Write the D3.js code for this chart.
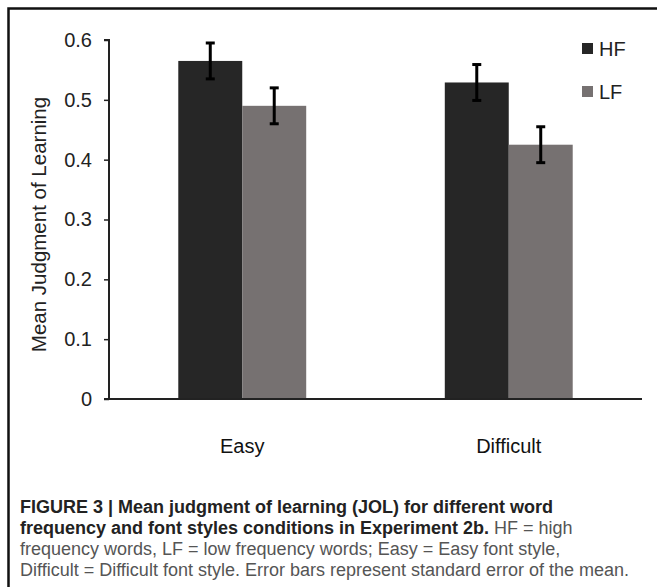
<!DOCTYPE html>
<html>
<head>
<meta charset="utf-8">
<script src="https://cdn.jsdelivr.net/npm/d3@7"></script>
<style>
  body { margin: 0; background: #fff; }
  svg text { font-family: "Liberation Sans", Arial, sans-serif; }
</style>
</head>
<body>
<div id="chart"></div>
<script>
// data
const categories = ["Easy", "Difficult"];
const seriesNames = ["HF", "LF"];
const hfMeans = [0.565, 0.529];
const lfMeans = [0.490, 0.425];
const hfErr = [0.030, 0.030];
const lfErr = [0.030, 0.030];
const yTicks = [0, 0.1, 0.2, 0.3, 0.4, 0.5, 0.6];
const seriesColors = ["#262626", "#767171"];

const captionLines = [
    [{ t: "FIGURE 3 | Mean judgment of learning (JOL) for different word", b: true }],
    [{ t: "frequency and font styles conditions in Experiment 2b.", b: true }, { t: " HF = high", b: false }],
    [{ t: "frequency words, LF = low frequency words; Easy = Easy font style,", b: false }],
    [{ t: "Difficult = Difficult font style. Error bars represent standard error of the mean.", b: false }]
];

const W = 657, H = 587;
const plot = { left: 109, right: 642, top: 40, bottom: 399 };

const svg = d3.select("#chart").append("svg")
    .attr("width", W)
    .attr("height", H);

// frame (left + top only, as in the figure crop)
svg.append("path")
    .attr("d", `M8.5,${H} V8.5 H${W}`)
    .attr("fill", "none")
    .attr("stroke", "#111")
    .attr("stroke-width", 2.5);

// scales
const x0 = d3.scaleBand()
    .domain(categories)
    .range([plot.left, plot.right])
    .paddingInner(0.52)
    .paddingOuter(0.26);

const x1 = d3.scaleBand()
    .domain(seriesNames)
    .range([0, x0.bandwidth()]);

const y = d3.scaleLinear()
    .domain([0, 0.6])
    .range([plot.bottom, plot.top]);

// table for the bars
const rows = [];
categories.forEach((c, i) => {
    rows.push({ cat: c, s: "HF", v: hfMeans[i], e: hfErr[i] });
    rows.push({ cat: c, s: "LF", v: lfMeans[i], e: lfErr[i] });
});
const color = d3.scaleOrdinal().domain(seriesNames).range(seriesColors);

svg.selectAll(".bar")
    .data(rows)
    .join("rect")
    .attr("class", "bar")
    .attr("x", d => x0(d.cat) + x1(d.s))
    .attr("y", d => y(d.v))
    .attr("width", x1.bandwidth())
    .attr("height", d => y(0) - y(d.v))
    .attr("fill", d => color(d.s));

// error bars
const capW = 9;
const eb = svg.selectAll(".err")
    .data(rows)
    .join("g")
    .attr("class", "err")
    .attr("transform", d => `translate(${x0(d.cat) + x1(d.s) + x1.bandwidth() / 2},0)`);
eb.append("line")
    .attr("y1", d => y(d.v + d.e))
    .attr("y2", d => y(d.v - d.e))
    .attr("stroke", "#000")
    .attr("stroke-width", 3);
eb.selectAll(".cap")
    .data(d => [d.v + d.e, d.v - d.e])
    .join("line")
    .attr("class", "cap")
    .attr("x1", -capW / 2)
    .attr("x2", capW / 2)
    .attr("y1", d => y(d))
    .attr("y2", d => y(d))
    .attr("stroke", "#000")
    .attr("stroke-width", 3);

// y axis
const yAxis = d3.axisLeft(y)
    .tickValues(yTicks)
    .tickSize(5)
    .tickPadding(12)
    .tickFormat(d => d === 0 ? "0" : d.toFixed(1));
const yg = svg.append("g")
    .attr("transform", `translate(${plot.left},0)`)
    .call(yAxis);
yg.select(".domain").attr("d", `M-5,${plot.top}H0V${plot.bottom}`)
    .attr("stroke", "#222").attr("stroke-width", 2);
yg.selectAll(".tick line").attr("stroke", "#222").attr("stroke-width", 1.5);
yg.selectAll(".tick text")
    .attr("font-size", 20)
    .attr("fill", "#222")
    .style("font-family", '"Liberation Sans", Arial, sans-serif');

// x axis
const xAxis = d3.axisBottom(x0).tickSize(0).tickPadding(40);
const xg = svg.append("g")
    .attr("transform", `translate(0,${plot.bottom})`)
    .call(xAxis);
xg.select(".domain").attr("d", `M${plot.left - 5},0H${plot.right}`)
    .attr("stroke", "#222").attr("stroke-width", 2);
xg.selectAll(".tick text")
    .attr("font-size", 20)
    .attr("fill", "#111")
    .style("font-family", '"Liberation Sans", Arial, sans-serif');

// y title
svg.append("text")
    .attr("transform", `translate(46,${(plot.top + plot.bottom) / 2 + 5}) rotate(-90)`)
    .attr("text-anchor", "middle")
    .attr("font-size", 20.5)
    .attr("fill", "#222")
    .text("Mean Judgment of Learning");

// legend
const legend = svg.append("g")
    .attr("transform", "translate(582,43)");
const li = legend.selectAll("g")
    .data(seriesNames)
    .join("g")
    .attr("transform", (d, i) => `translate(0,${i * 43})`);
li.append("rect")
    .attr("width", 11)
    .attr("height", 11)
    .attr("fill", d => color(d));
li.append("text")
    .attr("x", 17)
    .attr("y", 12.5)
    .attr("font-size", 20)
    .attr("fill", "#222")
    .text(d => d);

// caption
const cap = svg.append("text")
    .attr("font-size", 18)
    .attr("fill", "#555");
captionLines.forEach((line, i) => {
    line.forEach((seg, j) => {
        const ts = cap.append("tspan")
            .attr("font-weight", seg.b ? "bold" : "normal")
            .attr("fill", seg.b ? "#222" : "#555")
            .text(seg.t);
        if (j === 0) ts.attr("x", 20).attr("y", 513 + i * 21);
    });
});
</script>
</body>
</html>
